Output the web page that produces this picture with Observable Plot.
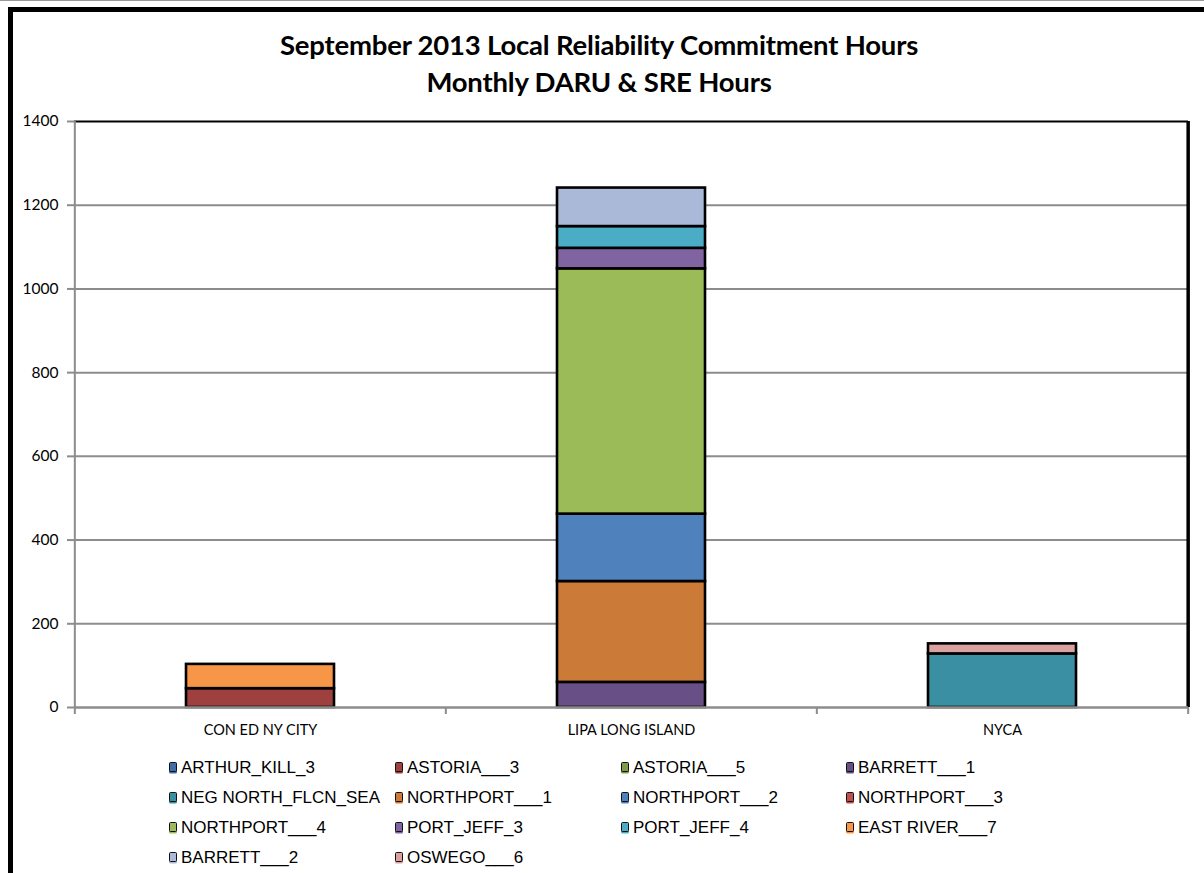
<!DOCTYPE html>
<html>
<head>
<meta charset="utf-8">
<script src="https://cdn.jsdelivr.net/npm/d3@7"></script>
<script src="https://cdn.jsdelivr.net/npm/@observablehq/plot@0.6"></script>
<style>
  html, body { margin: 0; padding: 0; background: #fff; }
  body { width: 1204px; height: 873px; position: relative; overflow: hidden; border-top: 1px solid #999; box-sizing: border-box; }
  #frame { position: absolute; left: 8px; top: 6px; width: 1300px; height: 1000px; border-left: 5px solid #000; border-top: 5px solid #000; }
  #title { position: absolute; left: 0; width: 1198px; top: 25px; text-align: center; font-family: Lato, "Open Sans", sans-serif; font-weight: 700; font-size: 27.5px; line-height: 37px; color: #000; letter-spacing: -0.2px; }
  #chart { position: absolute; left: 0; top: 100px; }
  #legend { position: absolute; left: 0; top: 752px; font-family: "Liberation Sans", Arial, sans-serif; font-size: 17px; color: #000; }
  .item { position: absolute; white-space: nowrap; height: 30px; line-height: 30px; }
  .sw { display: inline-block; width: 6px; height: 8px; border: 1.5px solid #111; border-radius: 1.5px; margin-right: 4px; vertical-align: 1px; }
</style>
</head>
<body>
<div id="frame"></div>
<div id="title">September 2013 Local Reliability Commitment Hours<br>Monthly DARU &amp; SRE Hours</div>
<div id="chart"></div>
<div id="legend"></div>
<script>
// ---- data ----
const categories = ["CON ED NY CITY", "LIPA LONG ISLAND", "NYCA"];
const seriesNames = [
  "ARTHUR_KILL_3", "ASTORIA___3", "ASTORIA___5", "BARRETT___1",
  "NEG NORTH_FLCN_SEA", "NORTHPORT___1", "NORTHPORT___2", "NORTHPORT___3",
  "NORTHPORT___4", "PORT_JEFF_3", "PORT_JEFF_4", "EAST RIVER___7",
  "BARRETT___2", "OSWEGO___6"
];
const seriesColors = [
  "#3f6fa6", "#9e413e", "#7f9a48", "#684f86",
  "#3b8fa3", "#cc7a37", "#4f81bd", "#c0504d",
  "#9bbb59", "#8064a2", "#4bacc6", "#f79646",
  "#aab9d8", "#d9a1a0"
];
// hours per series (same order as seriesNames)
const conEdHours = [0, 45, 0, 0, 0, 0, 0, 0, 0, 0, 0, 58, 0, 0];
const lipaHours  = [0, 0, 0, 60, 0, 241, 161, 0, 586, 49, 52, 0, 92, 0];
const nycaHours  = [0, 0, 0, 0, 128, 0, 0, 0, 0, 0, 0, 0, 0, 24];
const yTicks = [0, 200, 400, 600, 800, 1000, 1200, 1400];

// ---- table ----
const byCategory = [conEdHours, lipaHours, nycaHours];
const table = [];
categories.forEach((c, ci) => {
  seriesNames.forEach((s, si) => {
    const v = byCategory[ci][si];
    if (v > 0) table.push({category: c, series: s, hours: v});
  });
});

const W = 1204, mL = 74, mR = 16, mT = 20, mB = 40, H = 646;
const step = (W - mL - mR) / categories.length;
const grid = "#8c8c8c";

const chart = Plot.plot({
  width: W,
  height: H,
  marginLeft: mL,
  marginRight: mR,
  marginTop: mT,
  marginBottom: mB,
  style: {fontFamily: "Lato, 'Open Sans', sans-serif", background: "transparent", color: "#000"},
  x: {domain: categories, paddingInner: 0.6, paddingOuter: 0.3, label: null},
  y: {domain: [0, 1400], label: null},
  color: {domain: seriesNames, range: seriesColors},
  marks: [
    Plot.ruleY(yTicks.filter(t => t > 0 && t < 1400), {stroke: grid, strokeWidth: 2}),
    Plot.barY(table, {x: "category", y: "hours", fill: "series", stroke: "#000", strokeWidth: 2.6, order: seriesNames}),
    Plot.ruleY([1400], {stroke: "#000", strokeWidth: 2.2}),
    Plot.ruleX([categories[categories.length - 1]], {y1: 0, y2: 1400, dx: step / 2, stroke: "#000", strokeWidth: 3.5}),
    Plot.ruleX([categories[0]], {y1: 0, y2: 1400, dx: -step / 2, stroke: grid, strokeWidth: 2}),
    Plot.ruleY([0], {stroke: grid, strokeWidth: 2.5}),
    Plot.ruleX(categories, {y1: 0, y2: 0, insetBottom: -7, dx: -step / 2, stroke: grid, strokeWidth: 2}),
    Plot.ruleX([categories[categories.length - 1]], {y1: 0, y2: 0, insetBottom: -7, dx: step / 2, stroke: grid, strokeWidth: 2}),
    Plot.axisY({ticks: yTicks, tickSize: 7, tickPadding: 9, stroke: grid, strokeWidth: 2, fill: "#000", fontSize: 15.5, tickFormat: d => String(d), label: null}),
    Plot.axisX({tickSize: 0, tickPadding: 17, fontSize: 14.5, fill: "#000", label: null})
  ]
});
document.getElementById("chart").appendChild(chart);

// ---- legend ----
const legend = document.getElementById("legend");
const colX = [169, 395, 621, 846];
seriesNames.forEach((s, i) => {
  const item = document.createElement("div");
  item.className = "item";
  item.style.left = colX[i % 4] + "px";
  item.style.top = (Math.floor(i / 4) * 30) + "px";
  const sw = document.createElement("span");
  sw.className = "sw";
  sw.style.background = seriesColors[i];
  sw.style.boxShadow = "0 1.5px 0 " + seriesColors[i];
  item.appendChild(sw);
  item.appendChild(document.createTextNode(s));
  legend.appendChild(item);
});
</script>
</body>
</html>
